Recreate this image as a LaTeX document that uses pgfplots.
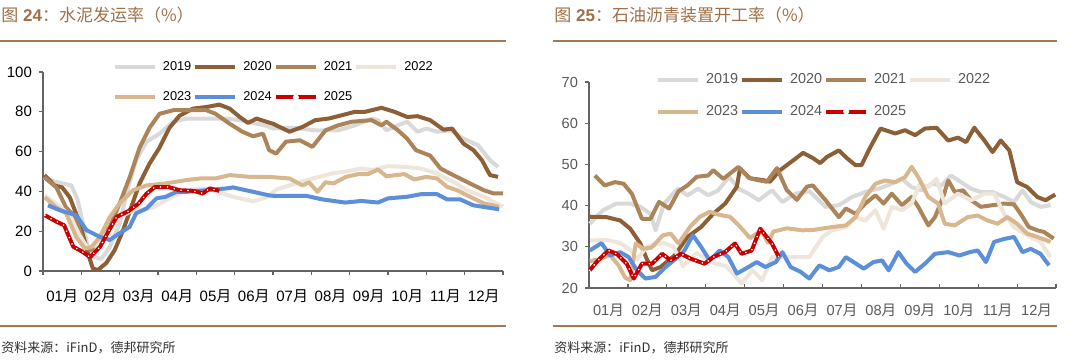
\documentclass[border=0pt]{standalone}
\usepackage{fontspec}
\setmainfont{Liberation Sans}
\newfontfamily\cjk{Noto Sans CJK SC}
\usepackage{pgfplots}
\pgfplotsset{compat=1.18}
\definecolor{c2019}{RGB}{217,217,217}
\definecolor{c2020}{RGB}{140,95,55}
\definecolor{c2021}{RGB}{172,132,90}
\definecolor{c2022}{RGB}{238,229,219}
\definecolor{c2023}{RGB}{216,182,142}
\definecolor{c2024}{RGB}{91,143,217}
\definecolor{c2025}{RGB}{200,0,0}
\definecolor{titlec}{RGB}{158,112,72}
\definecolor{rulec}{RGB}{165,120,80}
\definecolor{axisgray}{RGB}{100,100,100}
\definecolor{txtgray}{RGB}{89,89,89}
\definecolor{foot}{RGB}{50,50,50}

\pgfplotsset{
  common/.style={
    scale only axis, axis lines*=left, clip=false,
    xmin=0, xmax=12, xtick={0,...,12},
    xticklabels={01{\cjk 月},02{\cjk 月},03{\cjk 月},04{\cjk 月},05{\cjk 月},06{\cjk 月},07{\cjk 月},08{\cjk 月},09{\cjk 月},10{\cjk 月},11{\cjk 月},12{\cjk 月}},
    x tick label as interval,
    tick align=outside, major tick length=2pt,
    axis line style={draw=axisgray,line width=0.6pt},
    tick style={draw=axisgray,line width=0.6pt},
    /pgf/number format/assume math mode=true,
    legend columns=4,
    legend cell align=left,
    every axis plot/.append style={line width=2pt, line join=round, no markers},
    legend image code/.code={\draw[##1] (0pt,0pt) -- (20pt,0pt);},
  },
  redleg/.style={legend image code/.code={\draw[c2025,line width=2pt] (0pt,0pt) -- (20pt,0pt); \fill[white] (10pt,0pt) circle (0.55pt);}},
  dots/.style={white, line width=0.9pt, dash pattern=on 0pt off 3.5pt, line cap=round, forget plot},
}

\begin{document}
\begin{tikzpicture}
\useasboundingbox (0,0) rectangle (540pt,-179.5pt);

% titles and rules
\node[anchor=base west, inner sep=0, text=titlec, font=\fontsize{8.5pt}{10pt}\selectfont] at (0.5pt,-10.5pt) {{\cjk 图} \textbf{24}{\cjk ：水泥发运率（\%）}};
\node[anchor=base west, inner sep=0, text=titlec, font=\fontsize{8.5pt}{10pt}\selectfont] at (277pt,-10.5pt) {{\cjk 图} \textbf{25}{\cjk ：石油沥青装置开工率（\%）}};
\draw[rulec, line width=1pt] (0,-20.3pt) -- (253pt,-20.3pt);
\draw[rulec, line width=1pt] (276.5pt,-20.3pt) -- (528.5pt,-20.3pt);
\draw[rulec, line width=1pt] (0,-163pt) -- (253pt,-163pt);
\draw[rulec, line width=1pt] (276.5pt,-163pt) -- (528.5pt,-163pt);
\node[anchor=base west, inner sep=0, text=foot, font=\fontsize{6.5pt}{8pt}\selectfont] at (0.5pt,-176pt) {\cjk 资料来源：iFinD，德邦研究所};
\node[anchor=base west, inner sep=0, text=foot, font=\fontsize{6.5pt}{8pt}\selectfont] at (277pt,-176pt) {\cjk 资料来源：iFinD，德邦研究所};

% ---------------- left: cement
\begin{axis}[common,
  at={(21.5pt,-135.5pt)}, anchor=south west,
  width=230pt, height=99.5pt,
  ymin=0, ymax=100, ytick={0,20,...,100},
  ticklabel style={font=\fontsize{7.5pt}{9pt}\selectfont, text=black},
  xticklabel style={yshift=-4pt},
  legend style={draw=none, fill=none, font=\fontsize{6.4pt}{7pt}\selectfont,
    at={(rel axis cs:0.138,1.08)}, anchor=north west,
    row sep=8pt, nodes={inner xsep=1pt, inner ysep=0.5pt},
    /tikz/every odd column/.append style={column sep=2pt}},
]
\addplot[c2019] coordinates {(0.02,47) (0.3,45) (0.74,43) (0.9,36) (1.04,24) (1.17,12) (1.35,7) (1.52,6) (1.74,12) (2.0,24) (2.2,40.6) (2.43,55.7) (2.7,65) (3.04,69) (3.4,75) (3.74,76.6) (4.26,76.6) (4.8,76.6) (5.13,75.8) (5.83,73) (6.0,71.6) (6.5,72) (7.1,70.7) (7.7,70.7) (8.14,73.2) (8.57,76.6) (8.74,75.8) (8.96,70.7) (9.26,73.2) (9.5,75) (9.77,70) (10.0,71.6) (10.28,70) (10.63,70.7) (10.97,66.5) (11.35,63.2) (11.66,55.7) (11.87,52.3)};
\addlegendentry{2019}
\addplot[c2020] coordinates {(0.04,48.2) (0.3,43) (0.5,42) (0.7,37) (0.96,24) (1.17,9) (1.3,1.3) (1.43,0.5) (1.65,4) (1.87,10.5) (2.09,20.5) (2.3,32) (2.52,44) (2.78,54) (3.04,62) (3.3,72) (3.56,78) (3.91,81.6) (4.26,82.4) (4.6,83.6) (4.87,81.6) (5.13,77.4) (5.35,74.4) (5.57,76.6) (5.83,75) (6.0,74) (6.43,70) (6.77,72.4) (7.1,75.8) (7.45,76.6) (7.8,78.3) (8.14,80) (8.4,80) (8.83,82) (9.17,80) (9.5,77.4) (9.77,77.8) (10.1,75.8) (10.45,71) (10.67,71.6) (10.97,64) (11.23,60.7) (11.45,55.7) (11.66,48.2) (11.87,47.3)};
\addlegendentry{2020}
\addplot[c2021] coordinates {(0.04,47) (0.35,42) (0.6,32) (0.85,27) (1.09,12) (1.26,10.5) (1.48,17) (1.74,22) (2.0,34) (2.26,47) (2.52,62) (2.78,72) (3.04,79) (3.4,80.8) (3.74,80.8) (4.26,80.8) (4.5,79) (4.87,74) (5.2,70) (5.48,67.7) (5.74,69) (5.9,60.7) (6.08,59) (6.34,65) (6.7,65.7) (7.03,62.4) (7.37,70.7) (7.7,73.2) (8.05,75) (8.57,75.8) (8.83,73.2) (8.96,75) (9.26,70.7) (9.5,66.5) (9.73,60.7) (10.1,58) (10.37,51.5) (10.7,48.2) (11.14,44) (11.5,40.6) (11.75,39) (12,39)};
\addlegendentry{2021}
\addplot[c2022] coordinates {(0.05,38) (0.4,33) (0.7,28) (0.95,18) (1.15,12) (1.4,13) (1.7,20) (2.0,27) (2.3,30) (2.6,31) (2.87,32) (3.2,35.6) (3.74,40.6) (4.26,41.5) (4.96,37.3) (5.48,35) (5.83,37) (6.1,41) (6.86,45.6) (7.54,49) (7.9,50) (8.31,51.5) (8.6,50.7) (9.0,52.7) (9.43,52.3) (9.86,51.5) (10.28,49) (10.7,44.8) (11.06,40.6) (11.5,37.3) (12.0,32.3)};
\addlegendentry{2022}
\addplot[c2023] coordinates {(0.05,37) (0.35,32) (0.6,29) (0.87,17) (1.09,11.4) (1.26,12) (1.48,17) (1.74,27) (2.0,34) (2.35,40.6) (2.7,43) (3.2,44) (3.74,45.7) (4.1,46.5) (4.5,46.5) (4.87,48.2) (5.4,47.3) (5.9,47.3) (6.43,46.5) (6.77,43) (6.94,44.6) (7.16,39.8) (7.37,44.6) (7.58,44) (7.9,47.3) (8.23,48.7) (8.48,48.7) (8.74,51) (8.96,47.6) (9.43,48.7) (9.68,46) (10.0,47.3) (10.28,46.5) (10.54,42.3) (10.8,40.6) (11.14,37.3) (11.5,34) (11.9,32.3)};
\addlegendentry{2023}
\addplot[c2024] coordinates {(0.13,33) (0.43,30.6) (0.87,28) (1.13,20.6) (1.48,17.2) (1.74,15.6) (2.0,19) (2.26,22.2) (2.43,29) (2.7,31.4) (2.96,36.5) (3.2,37.3) (3.48,39.8) (3.74,39.8) (4.26,40.6) (4.78,41.5) (4.96,42) (5.48,39.8) (5.9,38) (6.0,37.8) (6.86,37.8) (7.28,36) (7.88,34.4) (8.31,35.2) (8.74,34.4) (9.0,36.5) (9.5,37.3) (9.86,38.6) (10.28,38.6) (10.54,36) (10.88,36) (11.23,33) (11.9,31)};
\addlegendentry{2024}
\addplot[c2025, redleg] coordinates {(0.05,28) (0.36,24.7) (0.55,23) (0.79,12.2) (1.0,10) (1.23,7) (1.49,12.2) (1.7,19.7) (1.92,27.2) (2.22,30) (2.49,33.8) (2.7,38.8) (2.92,42.2) (3.27,42.2) (3.56,40.6) (3.91,40.3) (4.17,39) (4.35,41.5) (4.6,40.3)};
\addlegendentry{2025}
\addplot[dots] coordinates {(0.05,28) (0.36,24.7) (0.55,23) (0.79,12.2) (1.0,10) (1.23,7) (1.49,12.2) (1.7,19.7) (1.92,27.2) (2.22,30) (2.49,33.8) (2.7,38.8) (2.92,42.2) (3.27,42.2) (3.56,40.6) (3.91,40.3) (4.17,39) (4.35,41.5) (4.6,40.3)};
\end{axis}

% ---------------- right: asphalt
\begin{axis}[common,
  at={(294.5pt,-144pt)}, anchor=south west,
  width=233.5pt, height=103pt,
  ymin=20, ymax=70, ytick={20,30,...,70},
  xtick style={yshift=2pt},
  ticklabel style={font=\fontsize{7.3pt}{9pt}\selectfont, text=txtgray},
  xticklabel style={yshift=-2.5pt},
  legend style={draw=none, fill=none, font=\fontsize{7.2pt}{8pt}\selectfont, text=txtgray,
    at={(rel axis cs:0.13,1.07)}, anchor=north west,
    row sep=8.5pt, nodes={inner xsep=1pt, inner ysep=0.5pt},
    /tikz/every odd column/.append style={column sep=2pt}},
]
\addplot[c2019] coordinates {(0.02,35.6) (0.36,38.9) (0.71,40.5) (1.06,40.5) (1.32,39.7) (1.58,38) (1.71,34) (1.93,40.5) (2.28,44.1) (2.53,42.5) (2.8,44.1) (3.06,42.5) (3.32,43.7) (3.6,47) (3.84,44.1) (4.1,42.9) (4.36,41.3) (4.7,43.7) (4.97,40.9) (5.31,42.9) (5.66,43.5) (6.08,39.7) (6.42,40.1) (6.76,42.1) (7.1,43.3) (7.44,44.1) (7.78,45.3) (8.04,46.5) (8.29,44.5) (8.55,43.7) (8.8,45.3) (9.06,44.9) (9.3,47.3) (9.56,45.7) (9.82,44.1) (10.07,43.3) (10.37,43.3) (10.67,42.1) (10.92,40.9) (11.14,43.7) (11.35,40.9) (11.6,39.7) (11.86,40.1)};
\addlegendentry{2019}
\addplot[c2020] coordinates {(0.02,37.3) (0.45,37.2) (0.8,36.4) (1.06,34.4) (1.32,30.8) (1.5,26.7) (1.62,24.3) (1.84,25.1) (2.2,27.9) (2.53,32.4) (2.88,34.8) (3.19,38) (3.5,40.5) (3.8,44.6) (3.88,49) (4.14,46.6) (4.47,46.2) (4.65,45.8) (4.91,48.6) (5.25,51) (5.5,52.8) (5.76,51.5) (5.94,50.3) (6.11,51.8) (6.42,53.4) (6.63,51.5) (6.85,49.8) (7.0,49.8) (7.23,54.2) (7.49,58.7) (7.87,57.5) (8.12,58.3) (8.38,57.1) (8.63,58.7) (8.93,58.9) (9.23,55.8) (9.48,56.5) (9.69,55.4) (9.9,58.9) (10.16,55.8) (10.37,53) (10.58,55.8) (10.8,53.4) (11.0,45.7) (11.26,44.5) (11.52,42.1) (11.73,41.3) (11.98,42.7)};
\addlegendentry{2020}
\addplot[c2021] coordinates {(0.15,47.3) (0.4,44.9) (0.67,45.7) (0.89,45.3) (1.1,42.9) (1.36,36.8) (1.58,36.8) (1.8,40.9) (2.06,39.3) (2.3,43.5) (2.53,44.9) (2.77,47) (3.06,47.3) (3.19,48.6) (3.45,46.5) (3.84,49.4) (4.1,46.8) (4.32,46.2) (4.57,45.8) (4.83,49.1) (5.08,43.8) (5.34,41.4) (5.6,44.6) (5.75,44.9) (6.08,41.3) (6.42,37.2) (6.6,39.3) (6.85,38) (7.1,40.5) (7.36,42.5) (7.57,40.5) (7.78,42.9) (8.04,40.1) (8.29,42.1) (8.46,39.7) (8.72,35.2) (8.89,37.2) (9.1,42.1) (9.23,46.1) (9.4,43.3) (9.61,43.7) (9.82,41.3) (10.07,39.7) (10.37,40.1) (10.67,40.5) (10.92,40.3) (11.09,38) (11.3,34.8) (11.52,34) (11.69,33.6) (11.94,32)};
\addlegendentry{2021}
\addplot[c2022] coordinates {(0.03,31.5) (0.45,31.7) (0.8,30.9) (1.06,29.3) (1.23,26.9) (1.49,30.1) (1.92,30.9) (2.16,30.1) (2.42,25.3) (2.76,28.5) (3.19,26.1) (3.53,25.3) (3.92,21.1) (4.2,24.3) (4.45,21.9) (4.7,27.5) (5.22,27.5) (5.66,27.5) (6.0,32.4) (6.25,34) (6.6,34.8) (6.85,37.2) (7.1,36.4) (7.36,38.9) (7.57,34.4) (7.78,39.7) (8.04,38.9) (8.29,40.5) (8.5,45.3) (8.72,44.5) (8.93,46.5) (9.14,40.5) (9.48,42.9) (9.82,41.3) (10.16,42.9) (10.41,42.9) (10.67,38) (10.92,34.8) (11.26,32.8) (11.6,31.2) (11.86,27.5)};
\addlegendentry{2022}
\addplot[c2023] coordinates {(0.02,26.5) (0.28,27) (0.54,28) (0.76,25.5) (0.93,22.5) (1.06,21.9) (1.2,30.8) (1.4,29.5) (1.6,29.8) (1.9,32.8) (2.1,33.2) (2.3,30.8) (2.6,34.9) (2.85,37.3) (3.1,38.5) (3.37,37.7) (3.62,37.3) (3.88,34.9) (4.14,32.1) (4.3,33.2) (4.45,33.6) (4.6,31) (4.74,33.7) (5.08,34.5) (5.48,34) (5.77,34.1) (6.25,34.8) (6.6,35.2) (6.85,37.2) (7.1,42.1) (7.36,45.3) (7.6,46.1) (7.87,45.7) (8.12,46.9) (8.29,49.4) (8.46,46.9) (8.72,42.1) (8.97,40.5) (9.14,35.6) (9.4,35.2) (9.73,37.2) (9.99,37.6) (10.24,36.4) (10.5,35.6) (10.75,37.2) (11.0,35.6) (11.26,33.2) (11.52,32.4) (11.86,31.2)};
\addlegendentry{2023}
\addplot[c2024] coordinates {(0.02,29.1) (0.32,30.9) (0.54,27.9) (0.8,28.7) (1.02,27.5) (1.23,24.3) (1.45,22.3) (1.71,22.7) (1.97,25.1) (2.28,27.5) (2.45,29.1) (2.67,32.8) (2.88,30) (3.1,26.7) (3.36,29.1) (3.58,27.5) (3.8,23.5) (4.1,25.1) (4.31,26.3) (4.53,25.1) (4.8,26.3) (4.97,28.7) (5.18,25.1) (5.44,23.9) (5.66,22.3) (5.92,25.5) (6.17,24.3) (6.42,25.1) (6.6,27.5) (7.06,24.7) (7.31,26.3) (7.53,26.7) (7.7,24.3) (7.95,28.7) (8.16,25.9) (8.38,23.9) (8.63,25.9) (8.89,28.3) (9.23,28.7) (9.52,27.9) (9.78,28.7) (9.99,29.1) (10.2,26.3) (10.41,31.2) (10.67,31.9) (10.92,32.4) (11.14,28.7) (11.35,29.5) (11.6,28.3) (11.82,25.5)};
\addlegendentry{2024}
\addplot[c2025, redleg] coordinates {(0.02,24.3) (0.23,26.7) (0.5,29.1) (0.71,28.3) (0.97,25.9) (1.15,22.3) (1.36,25.9) (1.62,25.9) (1.88,28.3) (2.1,26.7) (2.36,28.3) (2.62,27.1) (2.97,25.9) (3.19,27.5) (3.49,28.7) (3.75,30.8) (3.92,28.3) (4.18,29.1) (4.4,34.4) (4.7,30.8) (4.88,27.5)};
\addlegendentry{2025}
\addplot[dots] coordinates {(0.02,24.3) (0.23,26.7) (0.5,29.1) (0.71,28.3) (0.97,25.9) (1.15,22.3) (1.36,25.9) (1.62,25.9) (1.88,28.3) (2.1,26.7) (2.36,28.3) (2.62,27.1) (2.97,25.9) (3.19,27.5) (3.49,28.7) (3.75,30.8) (3.92,28.3) (4.18,29.1) (4.4,34.4) (4.7,30.8) (4.88,27.5)};
\end{axis}
\end{tikzpicture}
\end{document}
